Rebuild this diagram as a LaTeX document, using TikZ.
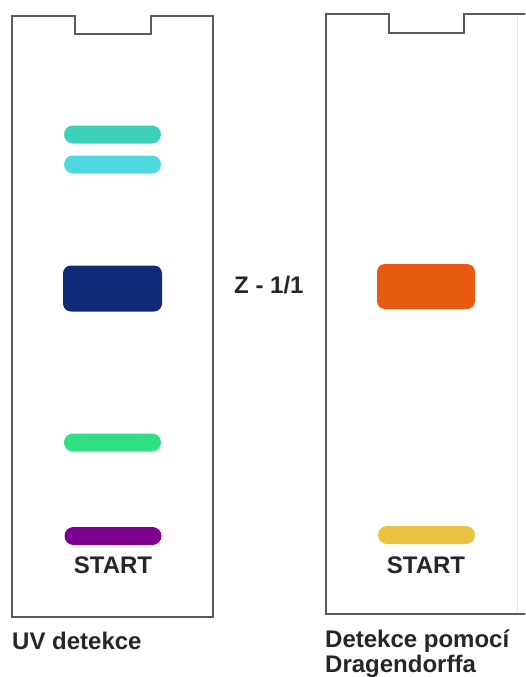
\documentclass[tikz,border=0pt]{standalone}
\usepackage{fontspec}
\setmainfont{Liberation Sans}
\definecolor{plategray}{RGB}{90,90,90}
\definecolor{spotteal}{RGB}{60,208,184}
\definecolor{spotcyan}{RGB}{78,216,226}
\definecolor{spotnavy}{RGB}{16,42,120}
\definecolor{spotgreen}{RGB}{48,224,128}
\definecolor{spotpurple}{RGB}{128,0,144}
\definecolor{spotorange}{RGB}{232,90,16}
\definecolor{spotyellow}{RGB}{234,194,66}
\usetikzlibrary{positioning}

\begin{document}
\begin{tikzpicture}[
  x=1pt,y=-1pt,
  plate/.style={draw=plategray,line width=2.4pt,line join=miter},
  band/.style={minimum width=97pt,minimum height=18pt,inner sep=0pt,rounded corners=9pt},
  blob/.style={minimum width=99pt,minimum height=46pt,inner sep=0pt,rounded corners=8pt},
  lbl/.style={font=\fontsize{24}{25}\selectfont\bfseries,inner sep=0pt,text=black!85}
]
  \useasboundingbox (0,0) rectangle (525,677);
  \clip (0,0) rectangle (525,677);

  % Left plate
  \draw[plate] (12,16) -- (75,16) -- (75,34) -- (151,34) -- (151,16) -- (213,16)
    -- (213,617) -- (12,617) -- cycle;

  % Right plate
  \draw[black!10,line width=1pt] (517,16) -- (517,612);
  \draw[plate] (530,14) -- (464,14) -- (464,33) -- (389,33) -- (389,14) -- (326,14)
    -- (326,614) -- (530,614);

  % Spots, UV
  \node[band,fill=spotteal] (uv1) at (112.5,134.5) {};
  \node[band,fill=spotcyan] (uv2) at (112.5,164.5) {};
  \node[blob,fill=spotnavy] (uv3) at (112.5,288.5) {};
  \node[band,fill=spotgreen] (uv4) at (112.5,442.5) {};
  \node[band,fill=spotpurple] (uvstart) at (113,536) {};

  % Spots, Dragendorff
  \node[blob,fill=spotorange,minimum width=98pt,minimum height=45pt] (dr1) at (426,286.5) {};
  \node[band,fill=spotyellow] (drstart) at (426.5,535) {};

  % Labels
  \node[lbl,anchor=base] (uvtxt) at (113,573) {START};
  \node[lbl,anchor=base] (drtxt) at (426,573) {START};
  \node[lbl,anchor=base west] (zone) at (234,293) {Z - 1/1};
  \node[lbl,anchor=base west] (uvname) at (12,649) {UV detekce};
  \node[lbl,anchor=base west] (drname1) at (325,647) {Detekce pomocí};
  \node[lbl,anchor=base west] (drname2) at (325,672) {Dragendorffa};
\end{tikzpicture}
\end{document}
